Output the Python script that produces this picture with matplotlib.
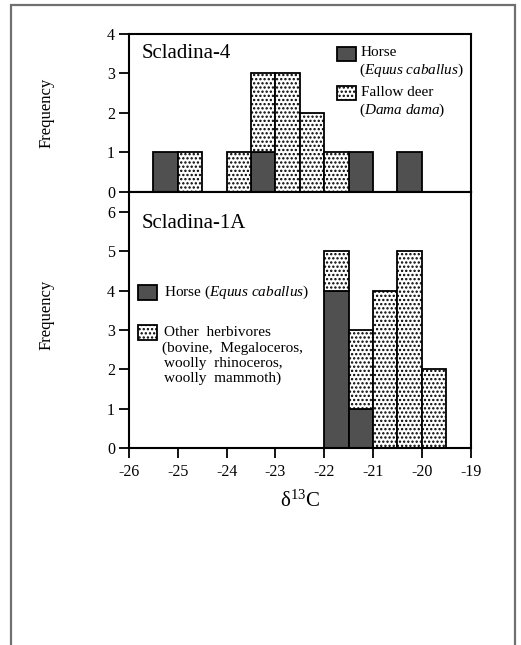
import matplotlib
matplotlib.use("Agg")
import matplotlib.pyplot as plt
from matplotlib.patches import Rectangle
import numpy as np

plt.rcParams['font.family'] = ['Liberation Serif', 'DejaVu Serif']
plt.rcParams['mathtext.fontset'] = 'custom'
plt.rcParams['mathtext.rm'] = 'Liberation Serif'
plt.rcParams['mathtext.it'] = 'Liberation Serif:italic'
plt.rcParams['hatch.linewidth'] = 1.1
plt.rcParams['hatch.color'] = '#555555'

# ---------------- data ----------------
bin_left = [-25.5, -25.0, -24.5, -24.0, -23.5, -23.0, -22.5, -22.0, -21.5, -21.0, -20.5, -20.0]
# Scladina-4
s4_horse = [1, 0, 0, 0, 1, 0, 0, 0, 1, 0, 1, 0]
s4_deer  = [0, 1, 0, 1, 2, 3, 2, 1, 0, 0, 0, 0]
# Scladina-1A
s1_horse = [0, 0, 0, 0, 0, 0, 0, 4, 1, 0, 0, 0]
s1_other = [0, 0, 0, 0, 0, 0, 0, 1, 2, 4, 5, 2]

x_ticks = [-26, -25, -24, -23, -22, -21, -20, -19]
top_yticks = [0, 1, 2, 3, 4]
bot_yticks = [0, 1, 2, 3, 4, 5, 6]
bin_width = 0.5

DARK = '#505050'
W, H = 521, 645
fig = plt.figure(figsize=(W / 100, H / 100), dpi=100)

# outer frame
fig.add_artist(Rectangle((11 / W, -0.01), (515 - 11) / W, 1 - 5 / H + 0.01,
                         transform=fig.transFigure, fill=False,
                         edgecolor='#707070', lw=1.6))

left = 129 / W
width = (470.6 - 129) / W
ax_top = fig.add_axes([left, 1 - 191.7 / H, width, (191.7 - 33.5) / H])
ax_bot = fig.add_axes([left, 1 - 448.3 / H, width, (448.3 - 191.7) / H])

def bars(ax, base, top):
    x = np.array(bin_left)
    b = np.array(base)
    t = np.array(top)
    ax.bar(x[b > 0], b[b > 0], width=bin_width, align='edge', color=DARK,
           edgecolor='black', linewidth=1.3, zorder=2)
    ax.bar(x[t > 0], t[t > 0], width=bin_width, bottom=b[t > 0], align='edge',
           color='white', edgecolor='black', hatch='....', linewidth=1.3, zorder=2)

bars(ax_top, s4_horse, s4_deer)
bars(ax_bot, s1_horse, s1_other)

for ax in (ax_top, ax_bot):
    ax.set_xlim(-26, -19)
    for s in ax.spines.values():
        s.set_linewidth(1.5)
    ax.tick_params(direction='out', length=7, width=1.3, labelsize=11.5, pad=3)
    ax.set_ylabel('Frequency', fontsize=12, labelpad=0)

ax_top.set_ylim(0, 4)
ax_top.set_yticks(top_yticks)
ax_top.set_xticks([])
ax_top.yaxis.set_label_coords(-0.218, 0.5)

ax_bot.set_ylim(0, 6.51)
ax_bot.set_yticks(bot_yticks)
ax_bot.set_xticks(x_ticks)
ax_bot.set_xticklabels([str(v) for v in x_ticks])
ax_bot.tick_params(axis='x', length=7, pad=4)
ax_bot.yaxis.set_label_coords(-0.218, 0.52)
ax_bot.set_xlabel(r'$\mathregular{\delta^{13}C}$', fontsize=15, labelpad=8)

# manual text / legends (pixel coords from top-left)
def px(x, y):
    return x / W, 1 - y / H

def legend_box(x, y, w, h, dark):
    fx, fy = px(x, y + h)
    if dark:
        r = Rectangle((fx, fy), w / W, h / H, transform=fig.transFigure,
                      facecolor=DARK, edgecolor='black', lw=1.3)
    else:
        r = Rectangle((fx, fy), w / W, h / H, transform=fig.transFigure,
                      facecolor='white', edgecolor='black', lw=1.3, hatch='....')
    fig.add_artist(r)

def ftext(x, y, s, **kw):
    fx, fy = px(x, y)
    fig.text(fx, fy, s, va='center', ha='left', **kw)

ftext(142, 53, 'Scladina-4', fontsize=15)
ftext(142, 224, 'Scladina-1A', fontsize=15)

legend_box(337, 47, 19, 14, True)
ftext(361, 53, 'Horse', fontsize=11)
ftext(359, 70, r'($\mathit{Equus\ caballus}$)', fontsize=11)
legend_box(337, 86, 19, 14, False)
ftext(361, 93, 'Fallow deer', fontsize=11)
ftext(359, 110, r'($\mathit{Dama\ dama}$)', fontsize=11)

legend_box(138, 285, 19, 15, True)
ftext(164, 292, r'Horse ($\mathit{Equus\ caballus}$)', fontsize=11)
legend_box(138, 325, 19, 15, False)
ftext(164, 332, 'Other  herbivores', fontsize=11)
ftext(162, 348, '(bovine,  Megaloceros,', fontsize=11)
ftext(164, 363, 'woolly  rhinoceros,', fontsize=11)
ftext(164, 378, 'woolly  mammoth)', fontsize=11)

fig.savefig('out.png', dpi=100)
